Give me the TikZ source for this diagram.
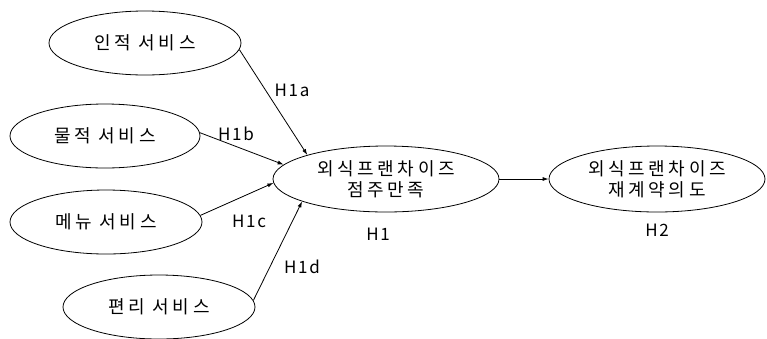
\documentclass[tikz,border=0pt]{standalone}
\usepackage{fontspec}
\setmainfont{Noto Sans CJK KR}[LetterSpace=20]
\newfontfamily\hypfont{Noto Sans CJK KR}[LetterSpace=10]
\usetikzlibrary{arrows.meta,shapes.geometric}
\tikzset{model/.style={
  x=1pt,y=-1pt,
  >={Latex[length=6pt,width=4pt]},line join=round
},
factor/.style={ellipse,draw,line width=0.8pt,inner sep=0pt,
  minimum width=192pt,minimum height=64pt,align=center,
  font=\fontsize{18}{21}\selectfont},
hyp/.style={font=\hypfont\fontsize{17}{20}\selectfont,inner sep=0pt}}

\begin{document}
\begin{tikzpicture}[model]
  \useasboundingbox (0,0) rectangle (767,338);

  \node[factor] (human) at (145,43) {인적 서비스};
  \node[factor,minimum width=190pt] (phys) at (105,136) {물적 서비스};
  \node[factor] (menu) at (106,222) {메뉴 서비스};
  \node[factor] (conv) at (159,307) {편리 서비스};
  \node[factor,minimum width=226pt,minimum height=66pt] (sat) at (386,179) {외식프랜차이즈\\점주만족};
  \node[factor,minimum width=216pt,minimum height=66pt] (renew) at (657,179) {외식프랜차이즈\\재계약의도};

  \draw[->,line width=0.8pt] (human.-4) -- (sat.163);
  \draw[->,line width=0.8pt] (phys.2) -- (sat.172);
  \draw[->,line width=0.8pt] (menu.4) -- (sat.-178);
  \draw[->,line width=0.8pt] (conv.4) -- (sat.-165);
  \draw[->,line width=0.8pt] (sat) -- (renew);

  \node[hyp] (h1a) at (292,90) {H1a};
  \node[hyp] (h1b) at (236,134) {H1b};
  \node[hyp] (h1c) at (249,221) {H1c};
  \node[hyp] (h1d) at (302,267) {H1d};
  \node[hyp] (h1) at (378,234) {H1};
  \node[hyp] (h2) at (657,230) {H2};
\end{tikzpicture}
\end{document}
